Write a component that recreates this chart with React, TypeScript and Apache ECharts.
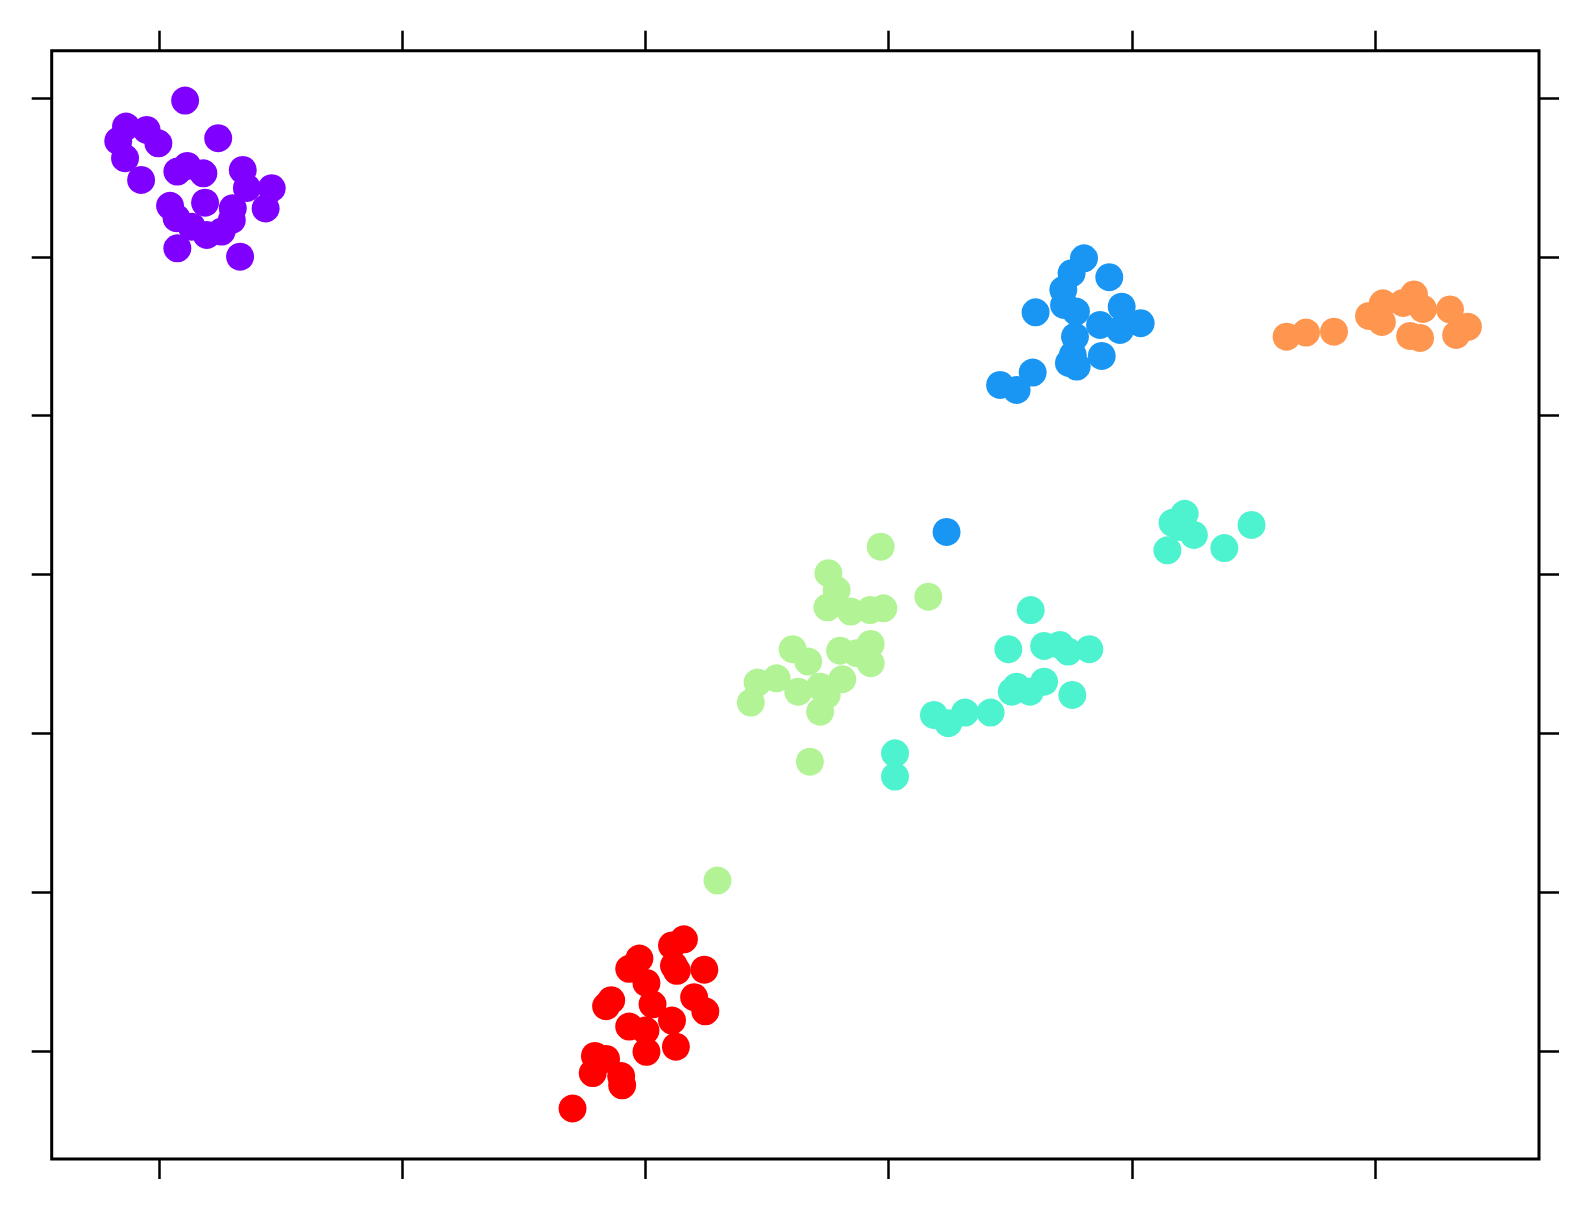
import React, { useEffect, useRef } from "react";
import * as echarts from "echarts";

// Cluster points as [x, y] in data units
const cluster0: number[][] = [
  [0.107, 5.984], [-0.136, 5.82], [-0.051, 5.799], [-0.168, 5.73], [-0.003, 5.715],
  [0.243, 5.747], [-0.14, 5.621], [-0.074, 5.484], [0.075, 5.537], [0.116, 5.572],
  [0.182, 5.526], [0.344, 5.547], [0.361, 5.434], [0.463, 5.432], [0.438, 5.305],
  [0.045, 5.321], [0.072, 5.243], [0.134, 5.19], [0.196, 5.138], [0.257, 5.159],
  [0.299, 5.232], [0.303, 5.306], [0.189, 5.341], [0.075, 5.054], [0.333, 5.001],
];
const cluster1: number[][] = [
  [3.803, 4.991], [3.907, 4.872], [3.752, 4.897], [3.718, 4.792], [3.721, 4.697],
  [3.77, 4.655], [3.604, 4.651], [3.958, 4.686], [3.869, 4.571], [3.951, 4.54],
  [4.036, 4.582], [3.766, 4.497], [3.757, 4.382], [3.876, 4.376], [3.773, 4.309],
  [3.741, 4.332], [3.592, 4.271], [3.458, 4.193], [3.526, 4.162], [3.238, 3.268],
];
const cluster2: number[][] = [
  [4.217, 3.382], [4.167, 3.325], [4.196, 3.299], [4.255, 3.249], [4.146, 3.152],
  [4.38, 3.166], [4.492, 3.312], [3.584, 2.776], [3.492, 2.529], [3.639, 2.55],
  [3.704, 2.556], [3.738, 2.514], [3.825, 2.529], [3.506, 2.262], [3.526, 2.293],
  [3.581, 2.262], [3.639, 2.325], [3.755, 2.241], [3.186, 2.115], [3.245, 2.063],
  [3.314, 2.13], [3.419, 2.13], [3.026, 1.874], [3.026, 1.727],
];
const cluster3: number[][] = [
  [2.967, 3.175], [2.752, 3.008], [2.786, 2.902], [3.163, 2.86], [2.748, 2.793],
  [2.844, 2.766], [2.923, 2.776], [2.978, 2.787], [2.605, 2.529], [2.669, 2.451],
  [2.8, 2.52], [2.926, 2.562], [2.926, 2.441], [2.868, 2.504], [2.461, 2.319],
  [2.539, 2.346], [2.628, 2.262], [2.718, 2.293], [2.809, 2.34], [2.745, 2.241],
  [2.433, 2.193], [2.718, 2.136], [2.676, 1.821], [2.296, 1.072],
];
const cluster4: number[][] = [
  [4.636, 4.497], [4.716, 4.523], [4.831, 4.529], [4.975, 4.628], [5.032, 4.707],
  [5.028, 4.59], [5.115, 4.71], [5.16, 4.763], [5.197, 4.672], [5.144, 4.502],
  [5.185, 4.489], [5.308, 4.669], [5.333, 4.508], [5.382, 4.559],
];
const cluster5: number[][] = [
  [2.158, 0.702], [2.109, 0.664], [1.975, 0.581], [1.933, 0.517], [2.117, 0.536],
  [2.129, 0.504], [2.242, 0.511], [2.004, 0.428], [1.859, 0.319], [1.838, 0.281],
  [2.029, 0.293], [2.2, 0.338], [2.246, 0.249], [1.933, 0.153], [2.0, 0.128],
  [2.109, 0.191], [2.004, -0.006], [2.125, 0.026], [1.792, -0.032], [1.838, -0.051],
  [1.783, -0.14], [1.9, -0.159], [1.904, -0.217], [1.7, -0.363],
];

const clusters = [cluster0, cluster1, cluster2, cluster3, cluster4, cluster5];
const colors = ["#8000ff", "#1996f3", "#4df3ce", "#b2f396", "#ff964f", "#ff0000"];

const xTicks = [0, 1, 2, 3, 4, 5];
const yTicks = [0, 1, 2, 3, 4, 5, 6];
const xRange = [-0.4416, 5.674];
const yRange = [-0.681, 6.298];

export default function App() {
  const ref = useRef<HTMLDivElement>(null);
  useEffect(() => {
    document.body.style.margin = "0";
    const chart = echarts.init(ref.current!, null, { renderer: "svg" });
    const tick = (values: number[]) => ({
      show: true,
      inside: false,
      length: 20,
      customValues: values,
      lineStyle: { color: "#000", width: 2.5 },
    });
    const xAxisBase = (pos: string) => ({
      type: "value",
      position: pos,
      min: xRange[0],
      max: xRange[1],
      axisLine: { show: false, onZero: false },
      axisTick: tick(xTicks),
      axisLabel: { show: false },
      splitLine: { show: false },
    });
    const yAxisBase = (pos: string) => ({
      type: "value",
      position: pos,
      min: yRange[0],
      max: yRange[1],
      axisLine: { show: false, onZero: false },
      axisTick: tick(yTicks),
      axisLabel: { show: false },
      splitLine: { show: false },
    });
    chart.setOption({
      animation: false,
      grid: {
        left: 51.7,
        top: 50.7,
        width: 1487.3,
        height: 1108.3,
        show: true,
        borderColor: "#000",
        borderWidth: 3,
        backgroundColor: "transparent",
      },
      xAxis: [xAxisBase("bottom"), xAxisBase("top")],
      yAxis: [yAxisBase("left"), yAxisBase("right")],
      series: clusters.map((d, i) => ({
        type: "scatter",
        xAxisIndex: 0,
        yAxisIndex: 0,
        data: d,
        symbol: "circle",
        symbolSize: 28,
        itemStyle: { color: colors[i], opacity: 1 },
        silent: true,
        z: 2,
      })),
    } as any);
    return () => chart.dispose();
  }, []);
  return <div ref={ref} style={{ width: 1589, height: 1210 }} />;
}
